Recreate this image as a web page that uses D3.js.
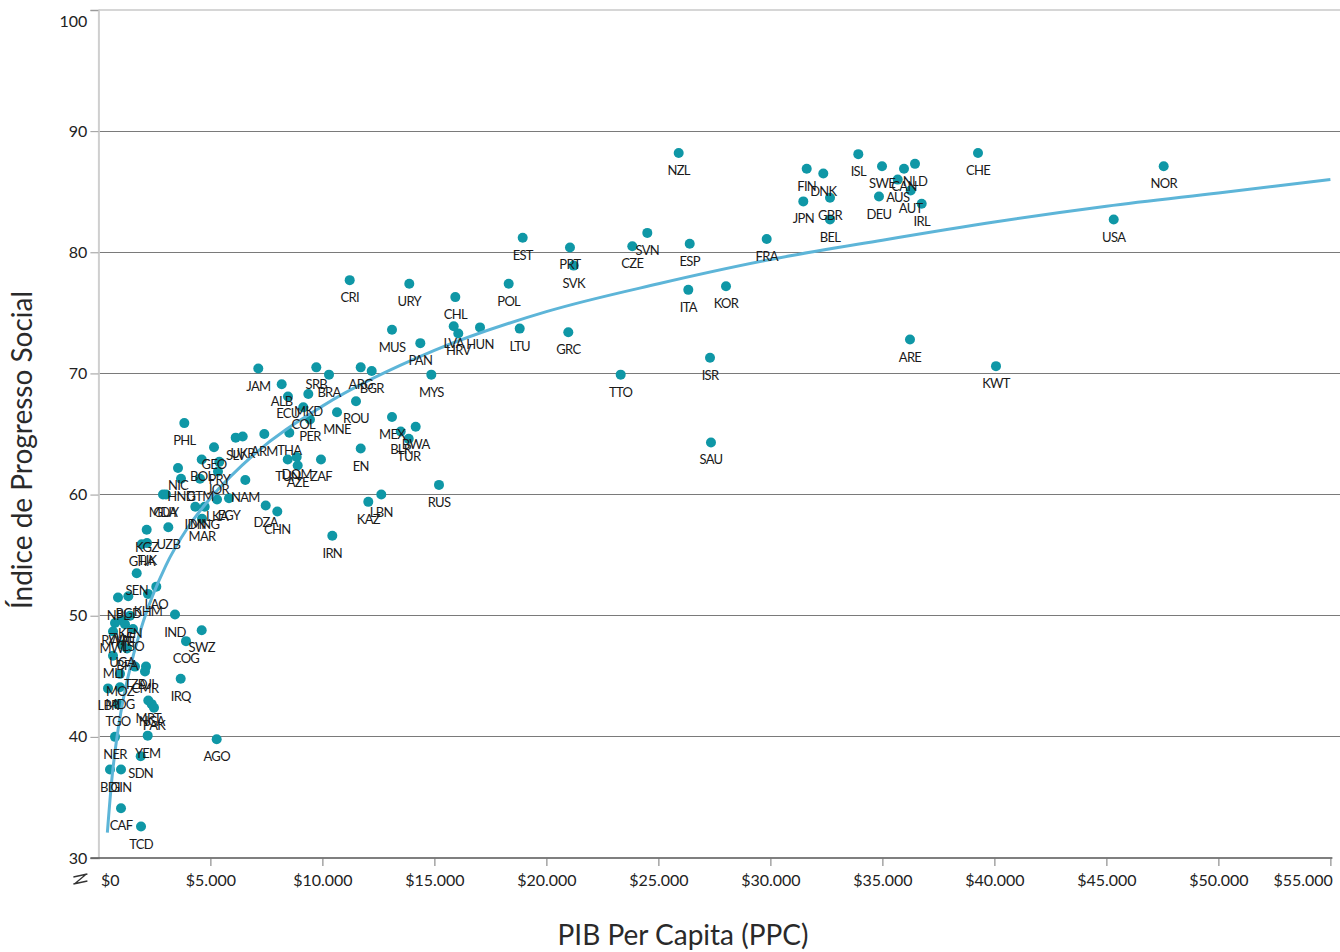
<!DOCTYPE html>
<html>
<head>
<meta charset="utf-8">
<script src="https://cdn.jsdelivr.net/npm/d3@7"></script>
<style>
  html, body { margin: 0; padding: 0; background: #fff; }
  svg { display: block; font-family: Lato, "Open Sans", sans-serif; }
</style>
</head>
<body>
<svg id="chart" width="1340" height="952"></svg>
<script>
// ---- data ----
const countries = ["NZL","NOR","CHE","USA","ISL","FIN","DNK","JPN","GBR","BEL","SWE","DEU","CAN","NLD","AUS","AUT","IRL","FRA","ARE","KWT","SAU","EST","PRT","SVK","CZE","SVN","ESP","ITA","KOR","POL","LTU","GRC","TTO","ISR","HUN","CRI","URY","CHL","MUS","PAN","LVA","HRV","MYS","JAM","SRB","BRA","ARG","BGR","ALB","ECU","MKD","COL","ROU","MNE","PER","SLV","UKR","ARM","THA","TUN","DOM","AZE","ZAF","EN","KAZ","LBN","RUS","MEX","BLR","TUR","BWA","NAM","DZA","CHN","IRN","PHL","GEO","BOL","PRY","JOR","NIC","GTM","HND","MDA","GUY","LKA","EGY","IDN","MNG","MAR","KGZ","UZB","GHA","TJK","SEN","LAO","NPL","BGD","KHM","IND","KEN","ZWE","RWA","HTI","LSO","MWI","UGA","BFA","MLI","TZA","DJI","CMR","MOZ","MDG","LBR","TGO","MRT","NGA","PAK","YEM","NER","SDN","BDI","GIN","CAF","TCD","SWZ","COG","IRQ","AGO"];
const gdpPerCapita = [25906,47558,39268,45326,33924,31621,32362,31469,32661,32661,34983,34848,35964,36455,35683,36264,36754,29835,36232,40071,27348,18942,21053,21219,23835,24505,26398,26335,28018,18317,18808,20978,23317,27304,17036,11219,13879,15933,13107,14371,15862,16067,14862,7138,9728,10295,11710,12201,8183,8464,9371,9147,11500,10652,9446,6129,6442,7406,8522,8451,8853,8897,9937,11710,12049,12629,15205,13107,13496,13853,14165,6558,7469,7987,10442,3835,5161,4612,5397,5339,3554,4536,3688,2884,3018,5295,5830,4326,4746,4625,2156,3121,1933,2170,1710,2585,875,1335,2214,3420,1411,1054,741,1188,1545,652,1054,1277,652,1634,2125,2080,964,964,429,875,2228,2379,2482,2201,741,1888,518,1009,1009,1902,4612,3911,3674,5281];
const socialProgress = [88.2,87.1,88.2,82.7,88.1,86.9,86.5,84.2,84.5,82.7,87.1,84.6,86.9,87.3,86.0,85.1,84.0,81.1,72.8,70.6,64.3,81.2,80.4,78.9,80.5,81.6,80.7,76.9,77.2,77.4,73.7,73.4,69.9,71.3,73.8,77.7,77.4,76.3,73.6,72.5,73.9,73.3,69.9,70.4,70.5,69.9,70.5,70.2,69.1,68.1,68.3,67.2,67.7,66.8,66.2,64.7,64.8,65.0,65.1,62.9,63.1,62.4,62.9,63.8,59.4,60.0,60.8,66.4,65.2,64.6,65.6,61.2,59.1,58.6,56.6,65.9,63.9,62.9,62.7,61.9,62.2,61.3,61.3,60.0,60.0,59.6,59.7,59.0,59.0,58.0,57.1,57.3,55.9,56.0,53.5,52.4,51.5,51.6,51.8,50.1,50.0,49.6,49.4,49.3,48.9,48.7,47.6,47.3,46.7,45.8,45.8,45.4,45.2,44.1,44.0,42.7,43.0,42.7,42.4,40.1,40.0,38.4,37.3,37.3,34.1,32.6,48.8,47.9,44.8,39.8];

// trend line
const trendGdp = [400,600,800,1000,1500,2000,3000,4000,5000,7000,10000,15000,20000,25000,30000,35000,40000,45000,50000,55000];
const trendSpi = [32.1,36.5,39.6,42.0,46.3,49.5,54.1,57.3,59.7,63.4,67.3,71.9,75.1,77.4,79.4,81.0,82.5,83.8,84.9,86.0];

const xTicks = [0,5000,10000,15000,20000,25000,30000,35000,40000,45000,50000,55000];
const xTickLabels = ["$0","$5.000","$10.000","$15.000","$20.000","$25.000","$30.000","$35.000","$40.000","$45.000","$50.000","$55.000"];
const yTicks = [30,40,50,60,70,80,90,100];
const yTickLabels = ["30","40","50","60","70","80","90","100"];

const xTitle = "PIB Per Capita (PPC)";
const yTitle = "Índice de Progresso Social";

// ---- drawing ----
const svg = d3.select("#chart");
const x = d3.scaleLinear().domain([0, 55000]).range([98.4, 1330.4]);
const y = d3.scaleLinear().domain([30, 100]).range([858, 10]);
const right = 1340;

// grid lines
svg.append("g").selectAll("line")
  .data(yTicks.filter(v => v > 30 && v < 100))
  .join("line")
  .attr("x1", x(0)).attr("x2", right)
  .attr("y1", d => y(d)).attr("y2", d => y(d))
  .attr("stroke", "#7a7a7a").attr("stroke-width", 1).attr("shape-rendering", "crispEdges");

// top frame line
svg.append("line").attr("x1", x(0)).attr("x2", right)
  .attr("y1", y(100)).attr("y2", y(100))
  .attr("stroke", "#d6d6d6").attr("stroke-width", 2);

// y axis
const yAxis = d3.axisLeft(y).tickValues(yTicks)
  .tickFormat((d, i) => yTickLabels[i]).tickSize(8).tickPadding(3);
const gy = svg.append("g").attr("transform", `translate(${x(0)},0)`).call(yAxis);
gy.select(".domain").attr("stroke", "#cfcfcf").attr("stroke-width", 2);
gy.selectAll(".tick line").attr("stroke", "#9a9a9a");
gy.selectAll(".tick text").attr("font-size", 16).attr("fill", "#222")
  .attr("font-family", "Lato, sans-serif");
gy.selectAll(".tick text").filter(d => d === 100).attr("dy", "1.0em");

// x axis
const xAxis = d3.axisBottom(x).tickValues(xTicks)
  .tickFormat((d, i) => xTickLabels[i]).tickSize(8).tickPadding(9).tickSizeOuter(0);
const gx = svg.append("g").attr("transform", `translate(0,${y(30)})`).call(xAxis);
gx.select(".domain").attr("stroke", "#555").attr("stroke-width", 1.5)
  .attr("d", `M${x(0) - 8},0H${x(55000) + 2}`);
gx.selectAll(".tick line").attr("stroke", "#777");
gx.selectAll(".tick text").attr("font-size", 16).attr("fill", "#222")
  .attr("font-family", "Lato, sans-serif");
gx.selectAll(".tick").filter(d => d === 0).select("line").remove();
gx.selectAll(".tick text").filter(d => d === 0).attr("text-anchor", "start").attr("x", 2);
gx.selectAll(".tick text").filter(d => d === 55000).attr("text-anchor", "end").attr("x", 2);

// axis break mark
svg.append("path")
  .attr("d", `M${x(0) - 25},${y(30) + 19} L${x(0) - 11},${y(30) + 16} M${x(0) - 25},${y(30) + 26} L${x(0) - 11},${y(30) + 23} M${x(0) - 24},${y(30) + 26} L${x(0) - 12},${y(30) + 16}`)
  .attr("stroke", "#333").attr("stroke-width", 1.3).attr("fill", "none");

// axis titles
svg.append("text").attr("x", 683).attr("y", 945).attr("text-anchor", "middle")
  .attr("font-size", 28).attr("fill", "#2a2a2a").text(xTitle);
svg.append("text").attr("transform", "translate(32,450) rotate(-90)").attr("text-anchor", "middle")
  .attr("font-size", 28).attr("fill", "#2a2a2a").text(yTitle);

const data = countries.map((c, i) => ({ c, g: gdpPerCapita[i], s: socialProgress[i] }));

// points
svg.append("g").selectAll("circle").data(data).join("circle")
  .attr("cx", d => x(d.g)).attr("cy", d => y(d.s)).attr("r", 5)
  .attr("fill", "#0f97a6");

// trend line
const trend = trendGdp.map((g, i) => [g, trendSpi[i]]);
svg.append("path").datum(trend)
  .attr("d", d3.line().x(d => x(d[0])).y(d => y(d[1])).curve(d3.curveMonotoneX))
  .attr("fill", "none").attr("stroke", "#5db5d8").attr("stroke-width", 3);

// labels
svg.append("g").selectAll("text").data(data).join("text")
  .attr("x", d => x(d.g)).attr("y", d => y(d.s) + 22)
  .attr("text-anchor", "middle").attr("font-size", 13).attr("letter-spacing", "-0.7px")
  .attr("fill", "#1a1a1a").text(d => d.c);
</script>
</body>
</html>
